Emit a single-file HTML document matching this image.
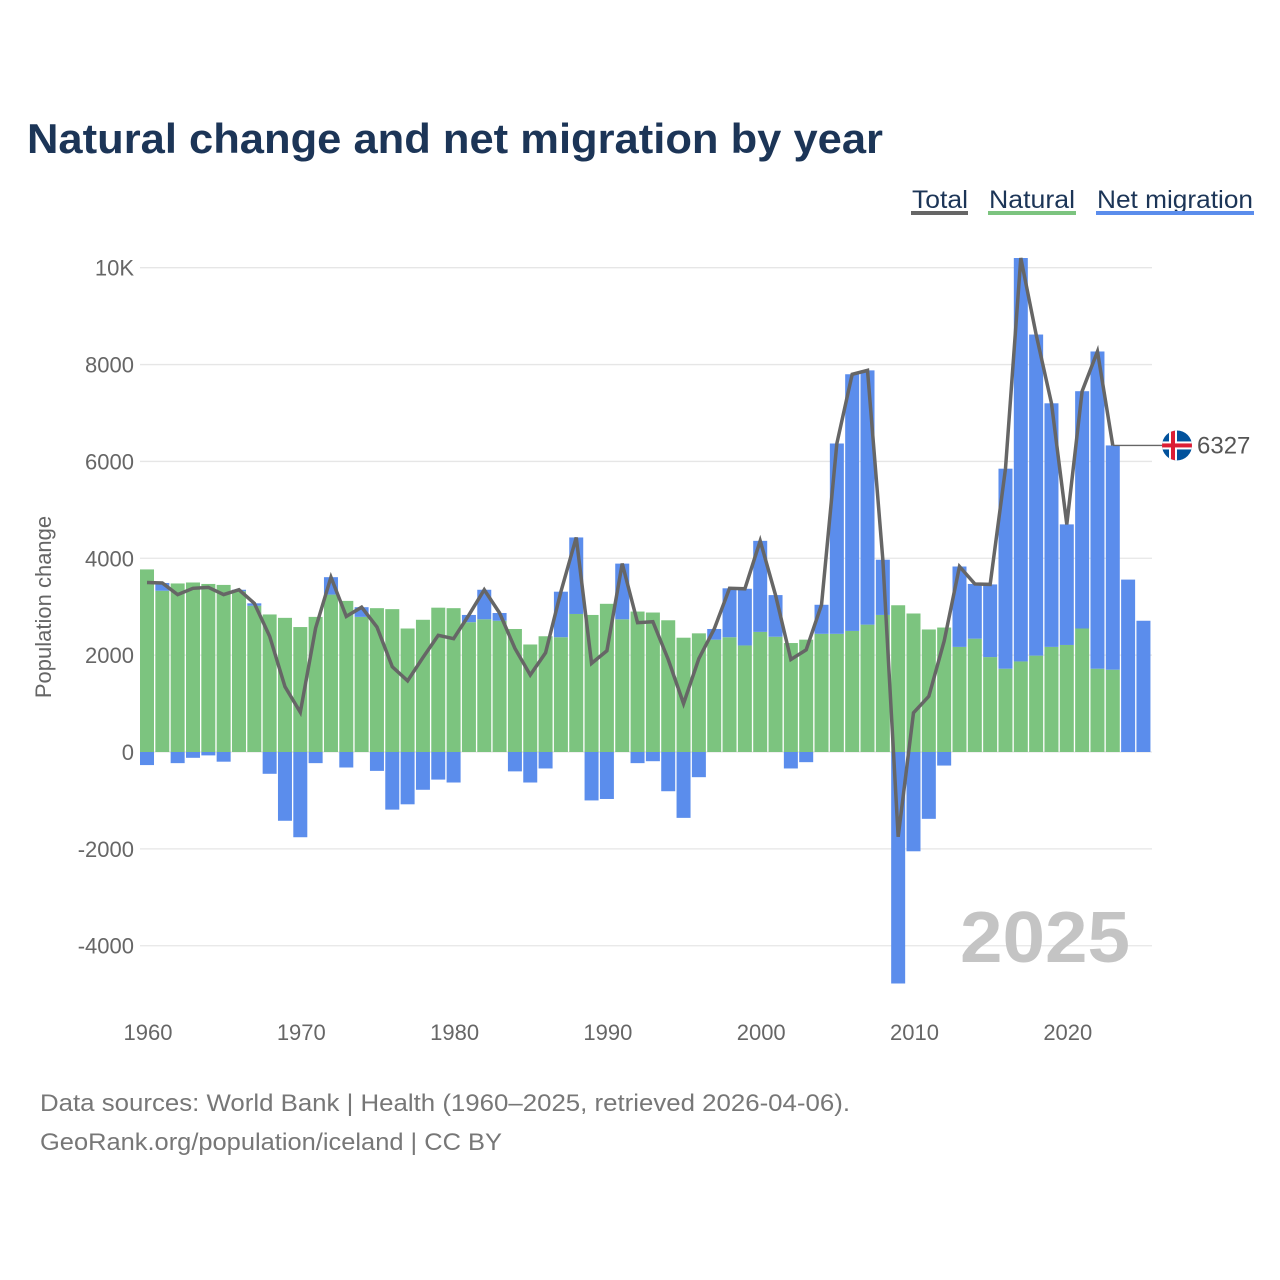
<!DOCTYPE html>
<html><head><meta charset="utf-8"><style>
body{margin:0;background:#fff;}
svg{display:block;font-family:"Liberation Sans",sans-serif;}
</style></head><body>
<svg id="chart" width="1280" height="1280" viewBox="0 0 1280 1280">
<text x="27" y="153" font-size="42" font-weight="bold" fill="#1c3557" textLength="856" lengthAdjust="spacingAndGlyphs">Natural change and net migration by year</text>
<g>
 <g><text x="912" y="208" font-size="25" fill="#1c3557" textLength="56" lengthAdjust="spacingAndGlyphs">Total</text><rect x="911" y="211" width="57" height="4" fill="#666"/></g>
 <g><text x="989" y="208" font-size="25" fill="#1c3557" textLength="86" lengthAdjust="spacingAndGlyphs">Natural</text><rect x="988" y="211" width="88" height="4" fill="#7cc47f"/></g>
 <g><text x="1097" y="208" font-size="25" fill="#1c3557" textLength="156" lengthAdjust="spacingAndGlyphs">Net migration</text><rect x="1096" y="211" width="158" height="4" fill="#5b8dec"/></g>
</g>
<g id="grid"></g>
<g id="yticks"></g>
<g id="xticks"></g>
<text x="960" y="962" font-size="72" font-weight="bold" fill="#c4c4c4" textLength="170" lengthAdjust="spacingAndGlyphs">2025</text>
<g id="bars"></g>
<g id="line"></g>
<text transform="translate(51,607) rotate(-90)" font-size="22" fill="#666" text-anchor="middle">Population change</text>
<text x="40" y="1111" font-size="24" fill="#777" textLength="810" lengthAdjust="spacingAndGlyphs">Data sources: World Bank | Health (1960–2025, retrieved 2026-04-06).</text>
<text x="40" y="1150" font-size="24" fill="#777" textLength="462" lengthAdjust="spacingAndGlyphs">GeoRank.org/population/iceland | CC BY</text>
</svg>
<script>
const years = [];
for (let y = 1960; y <= 2025; y++) years.push(y);
const natural = [3770,3330,3480,3500,3470,3450,3320,3020,2840,2770,2580,2790,3250,3120,2790,2970,2950,2550,2730,2980,2970,2680,
2740,2710,2540,2220,2390,2370,2850,2830,3060,2740,2900,2880,2720,2360,2450,2320,2370,2200,2480,2380,2250,2320,
2440,2440,2500,2630,2830,3030,2860,2530,2570,2170,2340,1960,1720,1870,1990,2170,2210,2550,1720,1700,null,null];
const migration = [-270,160,-230,-120,-70,-200,30,50,-450,-1420,-1760,-230,360,-320,200,-390,-1190,-1080,-780,-570,-630,150,
610,160,-400,-630,-340,940,1580,-1000,-970,1150,-230,-190,-810,-1360,-520,220,1010,1170,1880,860,-340,-210,
600,3930,5300,5250,1140,-4780,-2050,-1380,-280,1660,1130,1500,4130,8330,6630,5030,2490,4900,6550,4630,3560,2710];
const yTicks = [-4000,-2000,0,2000,4000,6000,8000,10000];
const yTickLabels = ["-4000","-2000","0","2000","4000","6000","8000","10K"];
const xTicks = [1960,1970,1980,1990,2000,2010,2020];
const lastLabel = "6327";

const NS = "http://www.w3.org/2000/svg";
const yScale = v => 752 - v * 0.04843;
const xScale = yr => 147 + (yr - 1960) * 15.33;
const bw = 14;
function mk(tag, attrs, parent){const e=document.createElementNS(NS,tag);for(const k in attrs)e.setAttribute(k,attrs[k]);parent.appendChild(e);return e;}
const grid=document.getElementById('grid'), yt=document.getElementById('yticks'), xt=document.getElementById('xticks');
yTicks.forEach((v,i)=>{
  const l=mk('line',{x1:140,x2:1152,y1:yScale(v),y2:yScale(v),stroke:'#e6e6e6','stroke-width':1.3},grid);
  
  
  const t=mk('text',{x:134,y:yScale(v)+8,'font-size':22,fill:'#666','text-anchor':'end'},yt);
  t.textContent=yTickLabels[i];
  
  
});
xTicks.forEach(yr=>{
  const t=mk('text',{x:xScale(yr)+1,y:1040,'font-size':22,fill:'#666','text-anchor':'middle'},xt);
  t.textContent=yr;
  
  
});
const bars=document.getElementById('bars');
years.forEach((yr,i)=>{
  const x=xScale(yr)-bw/2, n=natural[i]||0, m=migration[i];
  if(natural[i]!==null){
    const r=mk('rect',{x:x,y:yScale(n),width:bw,height:yScale(0)-yScale(n),fill:'#7cc47f'},bars);
    
    
  }
  let y0,y1;
  if(m>=0){y0=yScale(n+m);y1=yScale(n);}else{y0=yScale(0);y1=yScale(m);}
  const b=mk('rect',{x:x,y:y0,width:bw,height:y1-y0,fill:'#5b8dec'},bars);
  
  
});
const lg=document.getElementById('line');
const pts=[];
years.forEach((yr,i)=>{ if(natural[i]!==null) pts.push([xScale(yr), yScale(natural[i]+migration[i])]); });
const p=mk('polyline',{points:pts.map(q=>q.join(',')).join(' '),fill:'none',stroke:'#666','stroke-width':3.5,'stroke-linejoin':'miter'},lg);


const last=pts[pts.length-1];
const c=mk('line',{x1:last[0],x2:1163,y1:last[1],y2:last[1],stroke:'#666','stroke-width':1.3},lg);


const fy=last[1], fx=1177;
const f=mk('g',{},lg);


const cp=mk('clipPath',{id:'fc'},f);
mk('circle',{cx:fx,cy:fy,r:15},cp);
const fg=mk('g',{'clip-path':'url(#fc)'},f);
mk('rect',{x:fx-15,y:fy-15,width:30,height:30,fill:'#02529c'},fg);
mk('rect',{x:fx-15,y:fy-4,width:30,height:8,fill:'#fff'},fg);
mk('rect',{x:fx-8,y:fy-15,width:8,height:30,fill:'#fff'},fg);
mk('rect',{x:fx-15,y:fy-2,width:30,height:4,fill:'#dc1e35'},fg);
mk('rect',{x:fx-6,y:fy-15,width:4,height:30,fill:'#dc1e35'},fg);
const lt=mk('text',{x:1197,y:fy+8,'font-size':24,fill:'#555'},lg);
lt.textContent=lastLabel;


</script>
</body></html>
